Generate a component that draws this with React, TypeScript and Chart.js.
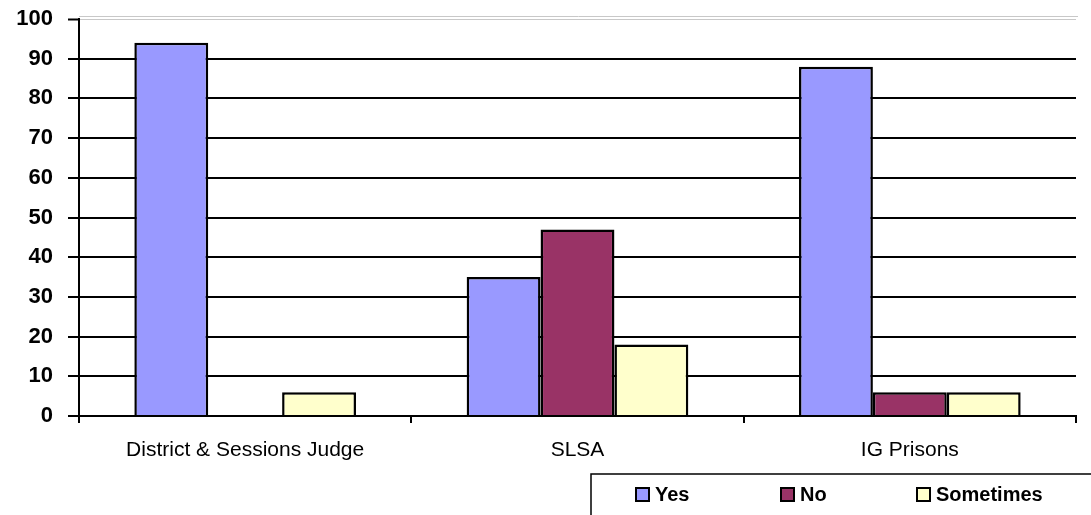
import React, { useEffect, useRef } from "react";
import { Chart, registerables } from "chart.js";

Chart.register(...registerables);

const categories = ["District & Sessions Judge", "SLSA", "IG Prisons"];
const seriesNames = ["Yes", "No", "Sometimes"];
const yesValues = [94, 35, 88];
const noValues = [0, 47, 6];
const sometimesValues = [6, 18, 6];
const seriesColors = ["#9999FF", "#993366", "#FFFFCC"];
const yTicksMin = 0;
const yTicksMax = 100;
const yTickStep = 10;

const FONT = "'Liberation Sans', Arial, sans-serif";

const legendBoxPlugin = {
  id: "legendBox",
  afterDraw(chart: any) {
    const ctx = chart.ctx;
    const left = 591;
    const top = 474;
    ctx.save();
    ctx.strokeStyle = "#000";
    ctx.lineWidth = 1.5;
    ctx.strokeRect(left, top, 700, 200);
    const offsets = [45, 190, 326];
    const sq = 13;
    ctx.font = `bold 20px ${FONT}`;
    ctx.textBaseline = "alphabetic";
    ctx.textAlign = "left";
    chart.data.datasets.forEach((ds: any, i: number) => {
      const x = left + offsets[i];
      const y = 488;
      ctx.fillStyle = ds.backgroundColor;
      ctx.fillRect(x, y, sq, sq);
      ctx.lineWidth = 2;
      ctx.strokeStyle = "#000";
      ctx.strokeRect(x, y, sq, sq);
      ctx.fillStyle = "#000";
      ctx.fillText(ds.label, x + sq + 6, 501);
    });
    const ca = chart.chartArea;
    ctx.strokeStyle = "#c8c8c8";
    ctx.lineWidth = 1;
    ctx.beginPath();
    ctx.moveTo(ca.left, ca.top - 2.5);
    ctx.lineTo(ca.right + 2, ca.top - 2.5);
    ctx.stroke();
    ctx.restore();
  },
};

export default function App() {
  const canvasRef = useRef<HTMLCanvasElement | null>(null);

  useEffect(() => {
    if (!canvasRef.current) return;
    const values = [yesValues, noValues, sometimesValues];
    const chart = new Chart(canvasRef.current, {
      type: "bar",
      data: {
        labels: categories,
        datasets: seriesNames.map((name, i) => ({
          label: name,
          data: values[i],
          backgroundColor: seriesColors[i],
          borderColor: "#000",
          borderWidth: 2.5,
          categoryPercentage: 0.667,
          barPercentage: 1,
        })),
      },
      options: {
        responsive: false,
        animation: false,
        devicePixelRatio: 1,
        layout: { padding: { left: 0, top: 19, right: 15, bottom: 49 } },
        plugins: {
          legend: { display: false },
          tooltip: { enabled: false },
        },
        scales: {
          x: {
            type: "category",
            offset: true,
            grid: {
              display: true,
              drawOnChartArea: false,
              drawTicks: true,
              offset: true,
              tickLength: 7,
              color: "#000",
              lineWidth: 2,
            },
            border: { display: true, color: "#000", width: 2 },
            ticks: {
              color: "#000",
              padding: 15,
              font: { family: FONT, size: 21, weight: "normal" },
              maxRotation: 0,
            },
            afterFit(scale: any) {
              scale.height = 50;
              scale.paddingLeft = 0;
              scale.paddingRight = 0;
            },
          },
          y: {
            min: yTicksMin,
            max: yTicksMax,
            grid: {
              color: (c: any) => (c.tick && c.tick.value === 100 ? "#c8c8c8" : "#000"),
              lineWidth: (c: any) => (c.tick && c.tick.value === 100 ? 1 : 2),
              tickColor: "#000",
              tickWidth: 2,
              tickLength: 11,
            },
            border: { display: true, color: "#000", width: 2 },
            ticks: {
              stepSize: yTickStep,
              color: "#000",
              padding: 15,
              font: { family: FONT, size: 22, weight: "bold" },
            },
            afterFit(scale: any) {
              scale.width = 79;
              scale.paddingTop = 0;
              scale.paddingBottom = 0;
            },
          },
        },
      },
      plugins: [legendBoxPlugin],
    });
    return () => chart.destroy();
  }, []);

  return (
    <div style={{ position: "absolute", left: 0, top: 0, width: 1091, height: 515, background: "#fff", overflow: "hidden" }}>
      <canvas ref={canvasRef} width={1091} height={515} style={{ display: "block" }} />
    </div>
  );
}
